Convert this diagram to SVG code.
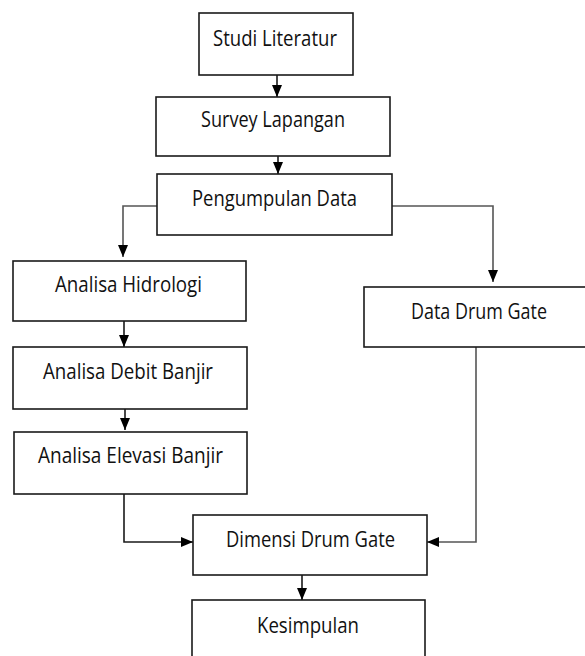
<svg xmlns="http://www.w3.org/2000/svg" width="585" height="656" viewBox="0 0 585 656">
<style>
.box{fill:#fff;stroke:#1a1a1a;stroke-width:1.6}
.lbl{font-family:"Open Sans","Liberation Sans",sans-serif;font-size:21.5px;fill:#111}
.c{fill:none;stroke:#1a1a1a;stroke-width:1.6;marker-end:url(#ah)}
.g{stroke:#555}
</style>
<defs>
<marker id="ah" viewBox="0 0 12 10" markerWidth="12" markerHeight="10" refX="12" refY="5" orient="auto" markerUnits="userSpaceOnUse">
<path d="M0,0 L12,5 L0,10 z" fill="#000"/>
</marker>
</defs>
<rect width="585" height="656" fill="#fff"/>
<g id="connectors">
<path class="c" d="M277,75 V97"/>
<path class="c" d="M278,156 V174"/>
<path class="c g" d="M157,206 H123 V257"/>
<path class="c g" d="M392,206 H493 V282"/>
<path class="c" d="M124,321 V347"/>
<path class="c" d="M125,409 V430"/>
<path class="c" d="M124,494 V542 H193"/>
<path class="c g" d="M476,347 V542 H427"/>
<path class="c" d="M302,575 V600"/>
</g>
<g id="studi"><rect class="box" x="199" y="13" width="154" height="62"/><text class="lbl" x="213" y="46" textLength="124" lengthAdjust="spacingAndGlyphs">Studi Literatur</text></g>
<g id="survey"><rect class="box" x="156" y="97" width="234" height="59"/><text class="lbl" x="201" y="127" textLength="144" lengthAdjust="spacingAndGlyphs">Survey Lapangan</text></g>
<g id="pengumpulan"><rect class="box" x="157" y="174" width="235" height="61"/><text class="lbl" x="192" y="206" textLength="165" lengthAdjust="spacingAndGlyphs">Pengumpulan Data</text></g>
<g id="hidrologi"><rect class="box" x="13" y="261" width="233" height="60"/><text class="lbl" x="55" y="292" textLength="147" lengthAdjust="spacingAndGlyphs">Analisa Hidrologi</text></g>
<g id="debit"><rect class="box" x="13" y="347" width="234" height="62"/><text class="lbl" x="43" y="379" textLength="170" lengthAdjust="spacingAndGlyphs">Analisa Debit Banjir</text></g>
<g id="elevasi"><rect class="box" x="14" y="432" width="233" height="62"/><text class="lbl" x="38" y="463" textLength="185" lengthAdjust="spacingAndGlyphs">Analisa Elevasi Banjir</text></g>
<g id="datadrum"><rect class="box" x="364" y="287" width="226" height="60"/><text class="lbl" x="411" y="319" textLength="136" lengthAdjust="spacingAndGlyphs">Data Drum Gate</text></g>
<g id="dimensi"><rect class="box" x="193" y="515" width="234" height="60"/><text class="lbl" x="226" y="547" textLength="169" lengthAdjust="spacingAndGlyphs">Dimensi Drum Gate</text></g>
<g id="kesimpulan"><rect class="box" x="192" y="600" width="233" height="62"/><text class="lbl" x="257" y="633" textLength="102" lengthAdjust="spacingAndGlyphs">Kesimpulan</text></g>
</svg>
